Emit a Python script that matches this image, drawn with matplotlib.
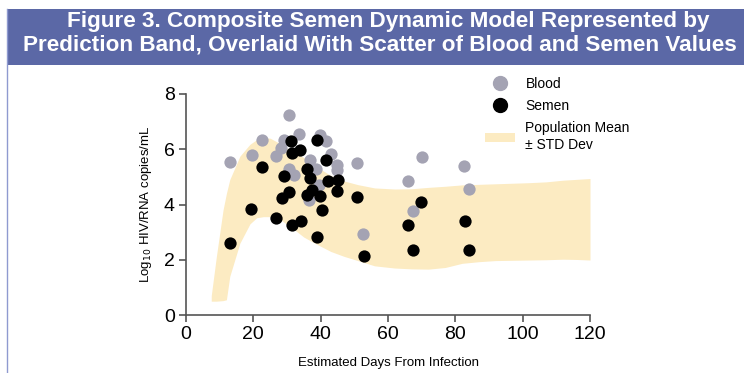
import matplotlib
matplotlib.use('Agg')
import matplotlib.pyplot as plt
from matplotlib.patches import Rectangle
from matplotlib.lines import Line2D
from matplotlib.patches import Patch

plt.rcParams['font.family'] = ['Liberation Sans', 'DejaVu Sans']

# blood (gray) values: days, log10 copies/mL
blood_day = [13.2, 19.5, 22.5, 26.6, 28.3, 29.0, 30.5, 30.7, 32.1, 33.5, 36.4, 36.7,
             38.6, 39.5, 39.8, 41.7, 43.0, 44.8, 44.8, 50.8, 52.6, 65.9, 67.3, 70.0,
             82.7, 84.0]
blood_val = [5.55, 5.80, 6.32, 5.75, 6.05, 6.35, 7.25, 5.29, 5.05, 6.55, 4.15, 5.62,
             5.30, 4.70, 6.52, 6.30, 5.82, 5.43, 5.25, 5.50, 2.95, 4.85, 3.75, 5.72,
             5.38, 4.55]

# semen (black) values
semen_day = [13.2, 19.4, 22.5, 26.8, 28.4, 29.0, 30.7, 31.1, 31.6, 31.5, 33.9, 34.1,
             35.8, 36.8, 35.8, 37.4, 38.9, 39.0, 39.8, 40.5, 41.5, 42.3, 45.1, 44.8,
             50.7, 52.8, 65.8, 67.4, 69.9, 83.0, 84.2]
semen_val = [2.60, 3.85, 5.36, 3.50, 4.23, 5.02, 4.44, 6.30, 5.87, 3.25, 5.96, 3.40,
             5.30, 4.95, 4.34, 4.52, 6.33, 2.82, 4.30, 3.80, 5.60, 4.84, 4.87, 4.50,
             4.27, 2.13, 3.25, 2.37, 4.08, 3.42, 2.37]

# prediction band (population mean +/- std dev)
band_day = [7.5, 9.0, 11.0, 12.0, 13.0, 16.0, 19.0, 21.0, 23.0, 25.0, 28.0, 31.0, 35.0,
            39.0, 43.0, 47.0, 51.0, 56.0, 62.0, 67.0, 72.0, 77.0, 82.0, 87.0, 92.0,
            97.0, 102.0, 107.0, 112.0, 116.0, 120.0]
band_lo = [0.50, 0.50, 0.52, 0.55, 1.40, 2.60, 3.30, 3.52, 3.56, 3.56, 3.45, 3.20, 2.82,
           2.55, 2.30, 2.12, 1.97, 1.78, 1.70, 1.67, 1.66, 1.72, 1.87, 1.93, 1.97,
           1.98, 1.99, 2.00, 2.02, 2.01, 1.99]
band_hi = [0.70, 2.10, 3.80, 4.40, 4.90, 5.75, 6.18, 6.35, 6.42, 6.40, 6.20, 5.95, 5.70,
           5.35, 5.05, 4.85, 4.72, 4.60, 4.56, 4.57, 4.62, 4.66, 4.71, 4.73, 4.75,
           4.77, 4.79, 4.82, 4.88, 4.91, 4.94]

band_color = '#fcebc2'
blood_color = '#a4a3b3'
banner_color = '#5b68a6'

fig = plt.figure(figsize=(7.44, 3.73), dpi=100)

# title banner and panel border
fig.patches.append(Rectangle((7/744, 1 - 65/373), 1.0, 56/373, transform=fig.transFigure,
                             facecolor=banner_color, edgecolor='none', zorder=0))
fig.add_artist(Line2D([7/744, 7/744], [0, 1 - 9/373], transform=fig.transFigure,
                      color='#8f9ad0', lw=1.0))
fig.text(388/744, 1 - 22/373, 'Figure 3. Composite Semen Dynamic Model Represented by',
         ha='center', va='center', color='white', fontsize=16.2, fontweight='bold')
fig.text(380/744, 1 - 45/373, 'Prediction Band, Overlaid With Scatter of Blood and Semen Values',
         ha='center', va='center', color='white', fontsize=16.2, fontweight='bold')

ax = fig.add_axes([186/744, 1 - 315/373, (590 - 186)/744, (315 - 94)/373])
ax.fill_between(band_day, band_lo, band_hi, color=band_color, lw=0, zorder=1)
ax.scatter(blood_day, blood_val, s=78, color=blood_color, lw=0, zorder=2)
ax.scatter(semen_day, semen_val, s=78, color='black', lw=0, zorder=3)

ax.set_xlim(0, 120)
ax.set_ylim(0, 8)
ax.set_xticks([0, 20, 40, 60, 80, 100, 120])
ax.set_yticks([0, 2, 4, 6, 8])
for side in ['top', 'right']:
    ax.spines[side].set_visible(False)
for side in ['left', 'bottom']:
    ax.spines[side].set_color('#555555')
    ax.spines[side].set_linewidth(1.2)
ax.tick_params(axis='both', colors='#555555', labelcolor='black', labelsize=14,
               length=5, width=1.2, pad=3)
ax.set_xlabel('Estimated Days From Infection', fontsize=9.5, labelpad=10)
ax.set_ylabel(r'Log$_{10}$ HIV/RNA copies/mL', fontsize=9.5, labelpad=7)

handles = [Line2D([], [], marker='o', ls='none', color=blood_color, markersize=10),
           Line2D([], [], marker='o', ls='none', color='black', markersize=10),
           Patch(facecolor=band_color, edgecolor='none')]
leg = ax.legend(handles, ['Blood', 'Semen', 'Population Mean\n\u00b1 STD Dev'],
                loc='upper left', bbox_to_anchor=(472/744, 1 - 64/373),
                bbox_transform=fig.transFigure, frameon=False, fontsize=10,
                handlelength=2.2, handletextpad=0.75, labelspacing=0.6)
for t in leg.get_texts():
    t.set_linespacing(1.3)

fig.savefig('out.png', dpi=100)
